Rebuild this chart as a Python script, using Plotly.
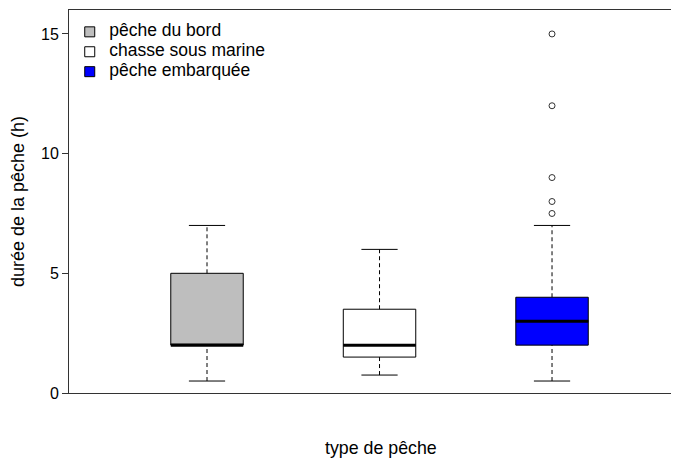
import plotly.graph_objects as go

# boxplot stats
categories = ["pêche du bord", "chasse sous marine", "pêche embarquée"]
positions = [1, 2, 3]
lower = [0.5, 0.75, 0.5]
q1 = [2, 1.5, 2]
median = [2, 2, 3]
q3 = [5, 3.5, 4]
upper = [7, 6, 7]
outlier_pos = [3, 3, 3, 3, 3]
outlier_val = [7.5, 8, 9, 12, 15]
colors = ["#BEBEBE", "#FFFFFF", "#0000FF"]

FONT = "Liberation Sans, Arial, sans-serif"
w = 0.42  # box width (data units)

fig = go.Figure()

for i in range(len(categories)):
    p = positions[i]
    # dashed whiskers
    fig.add_trace(go.Scatter(x=[p, p, None, p, p], y=[lower[i], q1[i], None, q3[i], upper[i]],
                             mode="lines", line=dict(color="black", width=1, dash="4px,3px"),
                             showlegend=False, hoverinfo="skip"))
    # staples
    fig.add_trace(go.Scatter(x=[p - w / 4, p + w / 4, None, p - w / 4, p + w / 4],
                             y=[lower[i], lower[i], None, upper[i], upper[i]],
                             mode="lines", line=dict(color="black", width=1),
                             showlegend=False, hoverinfo="skip"))
    fig.add_trace(go.Box(x=[p], q1=[q1[i]], median=[median[i]], q3=[q3[i]],
                         lowerfence=[q1[i]], upperfence=[q3[i]], width=w,
                         fillcolor=colors[i], line=dict(color="black", width=1),
                         whiskerwidth=0, showlegend=False, boxpoints=False))
    # thick median
    fig.add_trace(go.Scatter(x=[p - w / 2, p + w / 2], y=[median[i], median[i]],
                             mode="lines", line=dict(color="black", width=3),
                             showlegend=False, hoverinfo="skip"))

fig.add_trace(go.Scatter(x=outlier_pos, y=outlier_val, mode="markers",
                         marker=dict(symbol="circle-open", size=6, color="#333",
                                     line=dict(width=1)),
                         showlegend=False, hoverinfo="skip"))

# legend drawn on an overlay axis (0..1 over the plot area), like R's legend("topleft")
leg_y = [0.943 - 0.052 * k for k in range(len(categories))]
fig.add_trace(go.Scatter(x=[0.034] * len(categories), y=leg_y, mode="markers",
                         marker=dict(symbol="square", size=10, color=colors,
                                     line=dict(color="black", width=1)),
                         xaxis="x2", yaxis="y2", showlegend=False, hoverinfo="skip"))
fig.add_trace(go.Scatter(x=[0.066] * len(categories), y=leg_y, mode="text",
                         text=categories, textposition="middle right",
                         textfont=dict(size=17.5, color="black"),
                         xaxis="x2", yaxis="y2", showlegend=False, hoverinfo="skip"))

fig.update_layout(
    width=671, height=451,
    margin=dict(l=61, r=0, t=2, b=66),
    plot_bgcolor="white", paper_bgcolor="white",
    font=dict(family=FONT, size=16, color="black"),
    showlegend=False,
    xaxis=dict(range=[0.2, 3.736], showgrid=False, zeroline=False, showticklabels=False,
               ticks="", showline=True, linecolor="#333", linewidth=1, mirror=True),
    yaxis=dict(range=[0, 16], showgrid=False, zeroline=False, tickvals=[0, 5, 10, 15],
               ticks="outside", ticklen=6, tickcolor="#333", showline=True,
               linecolor="#333", linewidth=1, tickfont=dict(size=16),
               title=dict(text="durée de la pêche (h)", font=dict(size=18), standoff=12)),
    xaxis2=dict(overlaying="x", range=[0, 1], visible=False),
    yaxis2=dict(overlaying="y", range=[0, 1], visible=False),
    annotations=[dict(text="type de pêche", xref="paper", yref="paper", x=0.511, y=-0.1436,
                      showarrow=False, yanchor="middle", font=dict(size=17.8))],
)

fig.write_html("out.html")
